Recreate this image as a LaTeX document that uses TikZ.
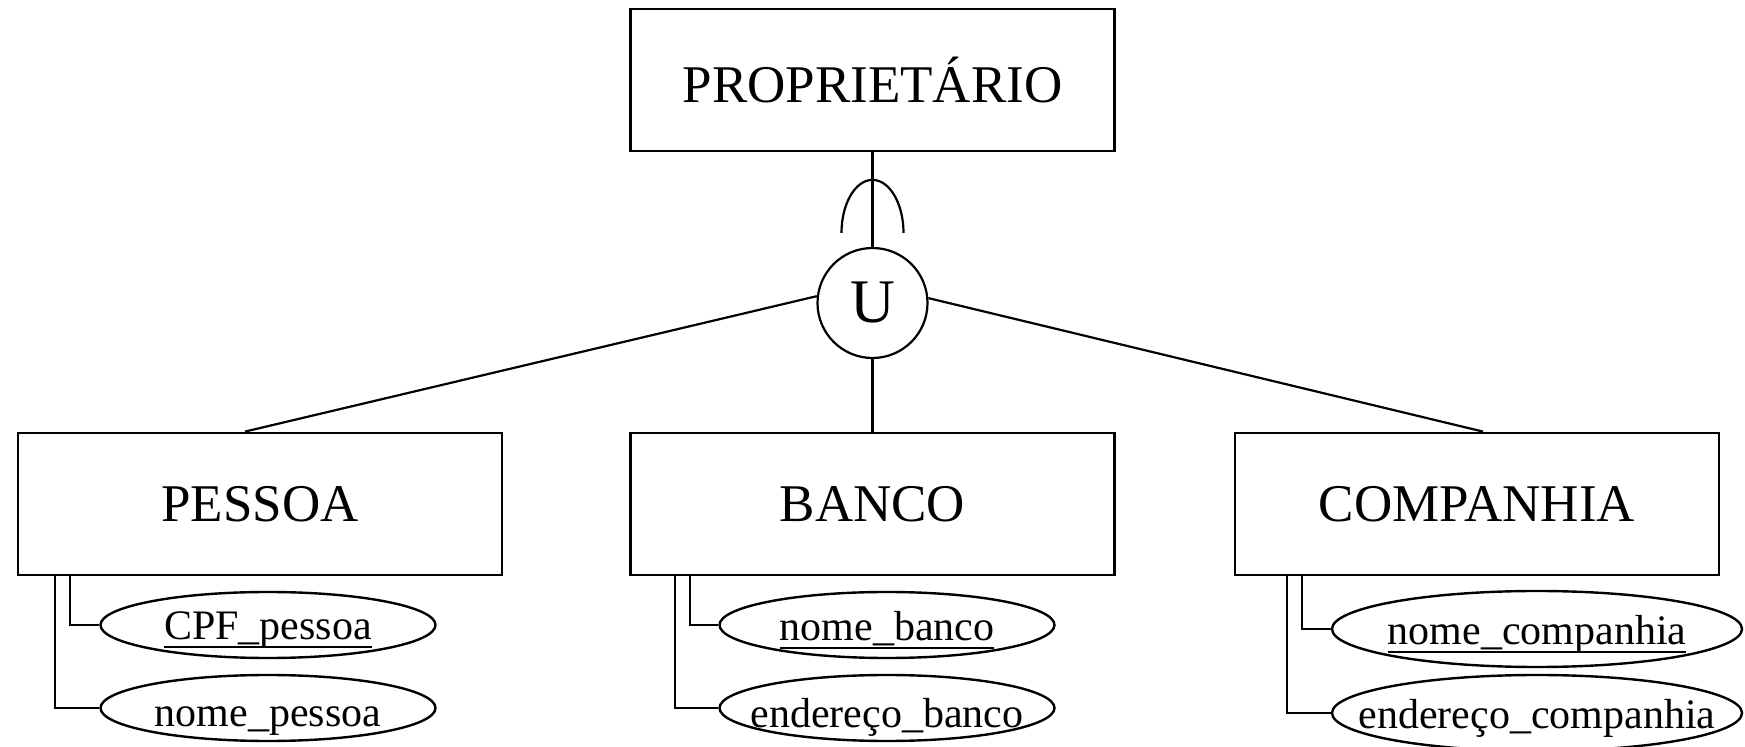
\documentclass[tikz,border=0pt]{standalone}
\usepackage{fontspec}
\setmainfont{Liberation Serif}
\usepackage{tikz}
\usetikzlibrary{shapes.geometric}
\tikzset{
    entidade/.style={draw, line width=1.4pt, minimum width=242pt, minimum height=71pt,
        inner sep=0pt, font=\fontsize{26.5}{30}\selectfont},
    atributo/.style={draw, ellipse, line width=1.2pt, inner sep=0pt,
        minimum width=167.5pt, minimum height=33pt},
    atributolargo/.style={atributo, minimum width=205pt, minimum height=38pt},
    nomeatrib/.style={inner sep=0pt, anchor=base, font=\fontsize{21}{24}\selectfont},
    uniao/.style={draw, circle, line width=1.1pt, minimum size=55pt, inner sep=0pt,
        font=\fontsize{31}{34}\selectfont},
    liga/.style={line width=1.1pt}
}
\newsavebox{\chavebox}
\newcommand{\chave}[1]{\sbox{\chavebox}{#1}\rlap{\rule[-4pt]{\wd\chavebox}{1pt}}\usebox{\chavebox}}

\begin{document}
\begin{tikzpicture}[x=0.5pt, y=-0.5pt]
    \useasboundingbox (0,0) rectangle (1745,747);

    \node[entidade] (proprietario) at (872.5,80) {PROPRIETÁRIO};
    \node[uniao] (u) at (872.5,303) {U};
    \node[entidade] (pessoa) at (260,504) {PESSOA};
    \node[entidade] (banco) at (872.5,504) {BANCO};
    \node[entidade] (companhia) at (1477,504) {COMPANHIA};

    \node[atributo] (cpf) at (268,625) {};
    \node[atributo] (nomep) at (268,708) {};
    \node[atributo] (nomeb) at (887,625) {};
    \node[atributo] (endb) at (887,708) {};
    \node[atributolargo] (nomec) at (1537,629) {};
    \node[atributolargo] (endc) at (1537,713) {};

    \node[nomeatrib] (cpftxt) at ([yshift=-7.5pt]cpf.center) {\chave{CPF\_pessoa}};
    \node[nomeatrib] (nomeptxt) at ([yshift=-9pt]nomep.center) {nome\_pessoa};
    \node[nomeatrib] (nomebtxt) at ([yshift=-8pt]nomeb.center) {\chave{nome\_banco}};
    \node[nomeatrib] (endbtxt) at ([yshift=-9.5pt]endb.center) {endereço\_banco};
    \node[nomeatrib] (nomectxt) at ([yshift=-8pt]nomec.center) {\chave{nome\_companhia}};
    \node[nomeatrib] (endctxt) at ([yshift=-7.5pt]endc.center) {endereço\_companhia};

    \draw[liga] (proprietario.south) -- (u.north);
    \draw[liga] ([xshift=-15.5pt, yshift=7pt]u.north)
        arc[start angle=180, end angle=0, x radius=15.5pt, y radius=26.5pt];
    \draw[liga] (u.173) -- ([xshift=-7.5pt]pessoa.north);
    \draw[liga] (u.south) -- (banco.north);
    \draw[liga] (u.5) -- ([xshift=3pt]companhia.north);

    \draw[liga] (cpf.west) -| ([xshift=26.5pt]pessoa.south west);
    \draw[liga] (nomep.west) -| ([xshift=19pt]pessoa.south west);
    \draw[liga] (nomeb.west) -| ([xshift=30.5pt]banco.south west);
    \draw[liga] (endb.west) -| ([xshift=23pt]banco.south west);
    \draw[liga] (nomec.west) -| ([xshift=34pt]companhia.south west);
    \draw[liga] (endc.west) -| ([xshift=26.5pt]companhia.south west);
\end{tikzpicture}
\end{document}
